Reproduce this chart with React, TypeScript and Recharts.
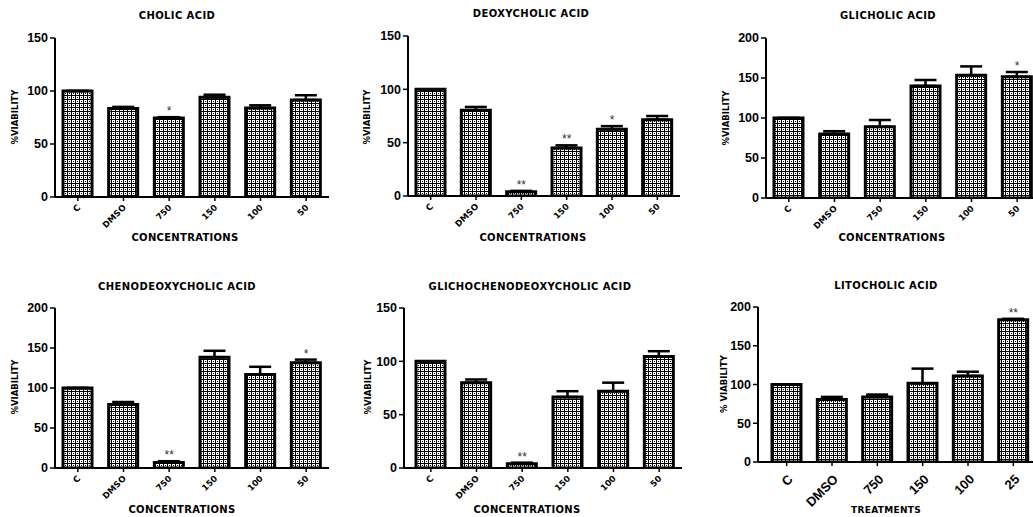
import React from "react";
import { ComposedChart, Bar, XAxis, YAxis, ErrorBar, Scatter } from "recharts";

// x axis categories
const concentrations = ["C", "DMSO", "750", "150", "100", "50"];
const treatments = ["C", "DMSO", "750", "150", "100", "25"];

const ticks150 = [0, 50, 100, 150];
const ticks200 = [0, 50, 100, 150, 200];

// % viability (mean), SEM and significance marks
const cholicMean = [100, 83.5, 74.5, 94, 84, 91.5];
const cholicErr = [0, 1.5, 0.8, 2.5, 2.5, 4.5];
const cholicSig = ["", "", "*", "", "", ""];

const deoxyMean = [100, 80.5, 4, 45, 62.5, 71.5];
const deoxyErr = [0, 3, 0.8, 2.5, 3, 3.5];
const deoxySig = ["", "", "**", "**", "*", ""];

const glicholicMean = [100, 80, 89, 140, 153.5, 151.5];
const glicholicErr = [0, 3.5, 8.5, 7.5, 11, 6];
const glicholicSig = ["", "", "", "", "", "*"];

const chenoMean = [100, 79.5, 7, 138.5, 117, 131.5];
const chenoErr = [0, 3, 1.5, 8, 9.5, 4];
const chenoSig = ["", "", "**", "", "", "*"];

const glichochenoMean = [100, 80, 4, 66.5, 72, 104.5];
const glichochenoErr = [0, 3, 1, 5.5, 8, 5];
const glichochenoSig = ["", "", "**", "", "", ""];

const litoMean = [100, 80.5, 84, 101.5, 111, 183.5];
const litoErr = [0, 3.5, 3, 19, 5.5, 1.3];
const litoSig = ["", "", "", "", "", "**"];

type Row = {
  name: string;
  value: number;
  err: number[];
  star: number | null;
  sig: string;
};

const makeRows = (names: string[], means: number[], errs: number[], sigs: string[]): Row[] =>
  names.map((name, i) => ({
    name,
    value: means[i],
    err: [0, errs[i]],
    star: sigs[i] ? means[i] + errs[i] : null,
    sig: sigs[i],
  }));

const gothic = "'DejaVu Sans', Verdana, sans-serif";
const arial = "'Liberation Sans', Arial, sans-serif";

const RotTick = ({ x, y, payload, big }: any) => {
  const ax = x + (big ? 7 : 3);
  const ay = y + (big ? 12 : 5);
  return (
    <text
      x={ax}
      y={ay}
      transform={`rotate(-45 ${ax} ${ay})`}
      textAnchor="end"
      fontSize={big ? 13 : 8.5}
      fontWeight="bold"
      fontFamily={big ? arial : gothic}
      fill="#000"
    >
      {payload.value}
    </text>
  );
};

const StarMark = (p: any) =>
  p.payload && p.payload.sig ? (
    <text x={p.cx} y={p.cy - 2} textAnchor="middle" fontSize={12} fontFamily={arial} fill="#333">
      {p.payload.sig}
    </text>
  ) : (
    <g />
  );

type PanelProps = {
  id: string;
  title: string;
  rows: Row[];
  ticks: number[];
  left: number;
  top: number;
  width: number;
  height: number;
  axisX: number;
  plotTop: number;
  plotBottom: number;
  plotRight: number;
  padLeft?: number;
  titleX: number;
  titleY: number;
  yLabel: string;
  yLabelX: number;
  yLabelY: number;
  xLabel: string;
  xLabelX: number;
  xLabelY: number;
  xLabelSize?: number;
  bigTicks?: boolean;
};

function Panel(p: PanelProps) {
  const textBase: React.CSSProperties = {
    position: "absolute",
    fontFamily: gothic,
    fontWeight: "bold",
    whiteSpace: "nowrap",
    lineHeight: 1,
    color: "#000",
  };
  return (
    <div style={{ position: "absolute", left: p.left, top: p.top, width: p.width, height: p.height }}>
      <ComposedChart
        width={p.width}
        height={p.height}
        data={p.rows}
        margin={{ top: p.plotTop, right: p.width - p.plotRight, bottom: 0, left: 0 }}
      >
        <defs>
          <pattern id={p.id} width={4} height={4} patternUnits="userSpaceOnUse">
            <rect width={4} height={4} fill="#000" />
            <rect x={0} y={0} width={3} height={3} fill="#fff" />
            <rect x={1} y={1} width={1} height={1} fill="#000" />
          </pattern>
        </defs>
        <XAxis
          dataKey="name"
          interval={0}
          height={p.height - p.plotBottom}
          padding={{ left: p.padLeft || 0, right: 0 }}
          axisLine={{ stroke: "#000", strokeWidth: 2 }}
          tickLine={{ stroke: "#000", strokeWidth: 1.5 }}
          tickSize={4}
          tick={(t: any) => <RotTick {...t} big={p.bigTicks} />}
        />
        <YAxis
          width={p.axisX}
          domain={[0, p.ticks[p.ticks.length - 1]]}
          ticks={p.ticks}
          allowDataOverflow
          axisLine={{ stroke: "#000", strokeWidth: 2 }}
          tickLine={{ stroke: "#000", strokeWidth: 1.5 }}
          tickSize={5}
          tick={{ fill: "#000", fontSize: 12.5, fontWeight: "bold", fontFamily: arial }}
        />
        <Bar
          dataKey="value"
          barSize={29}
          fill={`url(#${p.id})`}
          stroke="#000"
          strokeWidth={3}
          isAnimationActive={false}
        >
          <ErrorBar dataKey="err" width={11} stroke="#000" strokeWidth={2.5} direction="y" />
        </Bar>
        <Scatter dataKey="star" shape={StarMark} isAnimationActive={false} />
      </ComposedChart>
      <div
        style={{
          ...textBase,
          left: p.titleX,
          top: p.titleY,
          fontSize: 10,
          letterSpacing: 0.4,
          transform: "translate(-50%, -50%)",
        }}
      >
        {p.title}
      </div>
      <div
        style={{
          ...textBase,
          left: p.yLabelX,
          top: p.yLabelY,
          fontSize: 8.5,
          transform: "translate(-50%, -50%) rotate(-90deg)",
        }}
      >
        {p.yLabel}
      </div>
      <div
        style={{
          ...textBase,
          left: p.xLabelX,
          top: p.xLabelY,
          fontSize: p.xLabelSize || 10,
          letterSpacing: 0.3,
          transform: "translate(-50%, -50%)",
        }}
      >
        {p.xLabel}
      </div>
    </div>
  );
}

export default function App() {
  return (
    <div
      style={{
        position: "absolute",
        left: 0,
        top: 0,
        width: 1033,
        height: 517,
        overflow: "hidden",
        background: "#fff",
      }}
    >
      <Panel
        id="pat1"
        title="CHOLIC ACID"
        rows={makeRows(concentrations, cholicMean, cholicErr, cholicSig)}
        ticks={ticks150}
        left={0}
        top={0}
        width={345}
        height={260}
        axisX={55}
        plotTop={38}
        plotBottom={197}
        plotRight={329}
        titleX={177}
        titleY={16}
        yLabel="%VIABILITY"
        yLabelX={15}
        yLabelY={117}
        xLabel="CONCENTRATIONS"
        xLabelX={185}
        xLabelY={238}
      />
      <Panel
        id="pat2"
        title="DEOXYCHOLIC ACID"
        rows={makeRows(concentrations, deoxyMean, deoxyErr, deoxySig)}
        ticks={ticks150}
        left={345}
        top={0}
        width={345}
        height={260}
        axisX={63}
        plotTop={36}
        plotBottom={196}
        plotRight={335}
        titleX={186}
        titleY={14}
        yLabel="%VIABILITY"
        yLabelX={22}
        yLabelY={117}
        xLabel="CONCENTRATIONS"
        xLabelX={188}
        xLabelY={238}
      />
      <Panel
        id="pat3"
        title="GLICHOLIC ACID"
        rows={makeRows(concentrations, glicholicMean, glicholicErr, glicholicSig)}
        ticks={ticks200}
        left={690}
        top={0}
        width={360}
        height={260}
        axisX={76}
        plotTop={38}
        plotBottom={198}
        plotRight={350}
        titleX={198}
        titleY={16}
        yLabel="%VIABILITY"
        yLabelX={36}
        yLabelY={118}
        xLabel="CONCENTRATIONS"
        xLabelX={202}
        xLabelY={238}
      />
      <Panel
        id="pat4"
        title="CHENODEOXYCHOLIC ACID"
        rows={makeRows(concentrations, chenoMean, chenoErr, chenoSig)}
        ticks={ticks200}
        left={0}
        top={260}
        width={345}
        height={257}
        axisX={55}
        plotTop={48}
        plotBottom={208}
        plotRight={329}
        titleX={177}
        titleY={27}
        yLabel="%VIABILITY"
        yLabelX={15}
        yLabelY={127}
        xLabel="CONCENTRATIONS"
        xLabelX={182}
        xLabelY={250}
      />
      <Panel
        id="pat5"
        title="GLICHOCHENODEOXYCHOLIC ACID"
        rows={makeRows(concentrations, glichochenoMean, glichochenoErr, glichochenoSig)}
        ticks={ticks150}
        left={345}
        top={260}
        width={345}
        height={257}
        axisX={59}
        plotTop={48}
        plotBottom={208}
        plotRight={337}
        padLeft={4}
        titleX={185}
        titleY={27}
        yLabel="%VIABILITY"
        yLabelX={23}
        yLabelY={127}
        xLabel="CONCENTRATIONS"
        xLabelX={182}
        xLabelY={250}
      />
      <Panel
        id="pat6"
        title="LITOCHOLIC ACID"
        rows={makeRows(treatments, litoMean, litoErr, litoSig)}
        ticks={ticks200}
        left={690}
        top={260}
        width={360}
        height={257}
        axisX={68}
        plotTop={47}
        plotBottom={202}
        plotRight={346}
        padLeft={6}
        titleX={196}
        titleY={26}
        yLabel="% VIABILITY"
        yLabelX={34}
        yLabelY={124}
        xLabel="TREATMENTS"
        xLabelX={196}
        xLabelY={250}
        xLabelSize={9}
        bigTicks
      />
    </div>
  );
}
